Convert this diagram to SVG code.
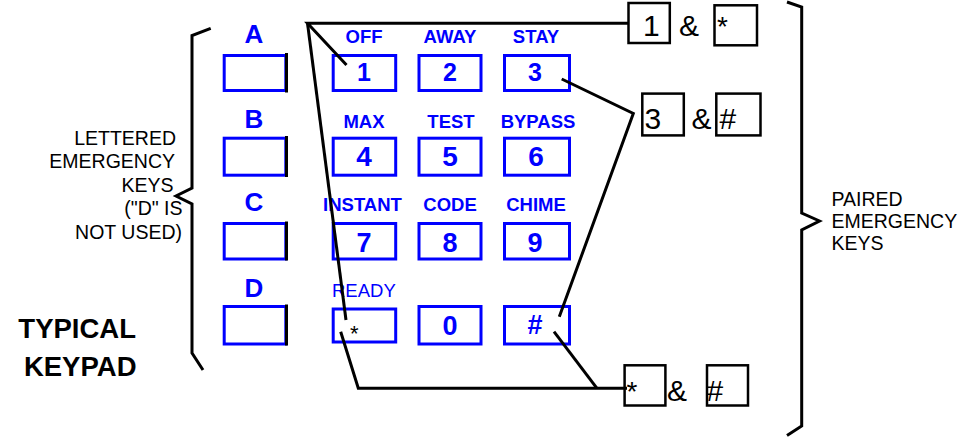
<svg xmlns="http://www.w3.org/2000/svg" width="964" height="438" viewBox="0 0 964 438">
<style>
.key{fill:none;stroke:#0000ff;stroke-width:3}
.edge{stroke:#000;stroke-width:3}
.lbl{font-family:"Liberation Sans",Arial,sans-serif;font-weight:bold;fill:#0000ff;text-anchor:middle}
.ltr{font-size:26px}
.fn{font-size:18.5px}
.dg{font-size:27px}
.note{font-family:"Liberation Sans",Arial,sans-serif;font-size:19.5px;fill:#000}
.pair{fill:#fff;stroke:#000;stroke-width:2.5}
.pt{font-family:"Liberation Sans",Arial,sans-serif;font-size:30px;fill:#000}
.conn{fill:none;stroke:#000;stroke-width:3;stroke-linejoin:miter}
</style>
<rect width="964" height="438" fill="#fff"/>

<g id="key-A"><text class="lbl ltr" x="254" y="42.7">A</text><rect class="key" x="224.2" y="55.5" width="61.6" height="35"/><line class="edge" x1="286.5" y1="53" x2="286.5" y2="92.5"/></g>
<g id="key-B"><text class="lbl ltr" x="254" y="128.3">B</text><rect class="key" x="224.2" y="138.2" width="61.6" height="37"/><line class="edge" x1="286.5" y1="136" x2="286.5" y2="177"/></g>
<g id="key-C"><text class="lbl ltr" x="254" y="210.5">C</text><rect class="key" x="224.2" y="223.5" width="61.6" height="35.5"/><line class="edge" x1="286.5" y1="221.5" x2="286.5" y2="260.5"/></g>
<g id="key-D"><text class="lbl ltr" x="254" y="296.5">D</text><rect class="key" x="224.2" y="306.5" width="61.6" height="37.5"/><line class="edge" x1="286.5" y1="304.5" x2="286.5" y2="345.5"/></g>

<g id="key-1"><text class="lbl fn" x="364" y="42.7">OFF</text><rect class="key" x="333.2" y="55.5" width="62.5" height="35"/><text class="lbl" style="font-size:25px" x="364" y="80.5">1</text></g>
<g id="key-2"><text class="lbl fn" x="450" y="42.7">AWAY</text><rect class="key" x="419" y="55.5" width="62" height="35"/><text class="lbl" style="font-size:25px" x="450" y="80.5">2</text></g>
<g id="key-3"><text class="lbl fn" x="536" y="42.7">STAY</text><rect class="key" x="504.5" y="55.5" width="65" height="35"/><text class="lbl" style="font-size:25px" x="535" y="80.5">3</text></g>

<g id="key-4"><text class="lbl fn" x="364" y="128.3">MAX</text><rect class="key" x="333.2" y="138.2" width="62.5" height="37"/><text class="lbl" style="font-size:28px" x="364" y="166">4</text></g>
<g id="key-5"><text class="lbl fn" x="451" y="128.3">TEST</text><rect class="key" x="419" y="138.2" width="62" height="37"/><text class="lbl" style="font-size:28px" x="450" y="166">5</text></g>
<g id="key-6"><text class="lbl fn" x="538" y="128.3">BYPASS</text><rect class="key" x="504.5" y="138.2" width="65" height="37"/><text class="lbl" style="font-size:28px" x="536" y="166">6</text></g>

<g id="key-7"><text class="lbl fn" x="362.5" y="210.7">INSTANT</text><rect class="key" x="333.2" y="223.5" width="62.5" height="35.5"/><text class="lbl dg" x="364" y="251.5">7</text></g>
<g id="key-8"><text class="lbl fn" x="450" y="210.7">CODE</text><rect class="key" x="419" y="223.5" width="62" height="35.5"/><text class="lbl dg" x="450" y="251.5">8</text></g>
<g id="key-9"><text class="lbl fn" x="536" y="210.7">CHIME</text><rect class="key" x="504.5" y="223.5" width="65" height="35.5"/><text class="lbl dg" x="535" y="251.5">9</text></g>

<g id="key-star"><text x="332" y="296.7" style="font-family:'Liberation Sans',Arial,sans-serif;font-size:18.5px;fill:#0000ff">READY</text><rect class="key" x="333.2" y="309" width="62.5" height="33"/><text x="350" y="341" style="font-family:'Liberation Sans',Arial,sans-serif;font-size:22px;fill:#000">*</text></g>
<g id="key-0"><rect class="key" x="419" y="306.5" width="62" height="37.5"/><text class="lbl dg" x="450" y="334.5">0</text></g>
<g id="key-hash"><rect class="key" x="504.5" y="306.5" width="65" height="37.5"/><text class="lbl dg" x="535" y="333.5">#</text></g>

<g id="lettered-label">
<path class="conn" d="M210.7,28.3 L192,35.5 L192,188 L176,196 L192,204 L192,353 L203,370"/>
<text class="note" text-anchor="end" x="176" y="145">LETTERED</text>
<text class="note" text-anchor="end" x="175" y="168.3">EMERGENCY</text>
<text class="note" text-anchor="end" x="173.5" y="191.7">KEYS</text>
<text class="note" text-anchor="end" x="182.5" y="215">("D" IS</text>
<text class="note" text-anchor="end" x="182" y="239.3">NOT USED)</text>
</g>

<g id="title">
<text x="136" y="337.5" text-anchor="end" style="font-family:'Liberation Sans',Arial,sans-serif;font-weight:bold;font-size:27.5px;fill:#000">TYPICAL</text>
<text x="136.5" y="375.5" text-anchor="end" style="font-family:'Liberation Sans',Arial,sans-serif;font-weight:bold;font-size:27.5px;fill:#000">KEYPAD</text>
</g>

<g id="pair-1-star">
<rect class="pair" x="628.5" y="3" width="41.3" height="40"/>
<text class="pt" x="643" y="36.3">1</text>
<text class="pt" x="679" y="36.3">&amp;</text>
<rect class="pair" x="714.5" y="5.3" width="42.5" height="40"/>
<text class="pt" x="717" y="36.3" style="font-size:28px">*</text>
</g>
<g id="pair-3-hash">
<rect class="pair" x="642.3" y="93.6" width="41.5" height="41.8"/>
<text class="pt" x="644.5" y="128.5">3</text>
<text class="pt" x="691.5" y="128.5">&amp;</text>
<rect class="pair" x="716.3" y="93.6" width="44.2" height="41.8"/>
<text class="pt" x="719.5" y="128.5">#</text>
</g>
<g id="pair-star-hash">
<rect class="pair" x="624.6" y="365.3" width="40.8" height="40.2"/>
<text class="pt" x="626.5" y="400.5" style="font-size:28px">*</text>
<text class="pt" x="667" y="400.5">&amp;</text>
<rect class="pair" x="707" y="365.3" width="41" height="40.2"/>
<text class="pt" x="706.5" y="400.5">#</text>
</g>

<g id="paired-label">
<path class="conn" d="M787,2 L801.7,7 L801.7,213 L819.5,221 L801.7,230 L801.7,426 L787,435.5"/>
<text class="note" x="831.5" y="206">PAIRED</text>
<text class="note" x="831.5" y="228">EMERGENCY</text>
<text class="note" x="831.5" y="249.5">KEYS</text>
</g>

<g id="connectors">
<polyline class="conn" points="628,23.3 307.5,23.3 346.5,65"/>
<line class="conn" x1="307.5" y1="23.3" x2="346" y2="320"/>
<polyline class="conn" points="340.7,331.7 358.3,388.3 627,388.3"/>
<line class="conn" x1="554" y1="331.7" x2="597" y2="388.3"/>
<polyline class="conn" points="561.7,79 633.3,113.5 559.3,316.7"/>
</g>
</svg>
